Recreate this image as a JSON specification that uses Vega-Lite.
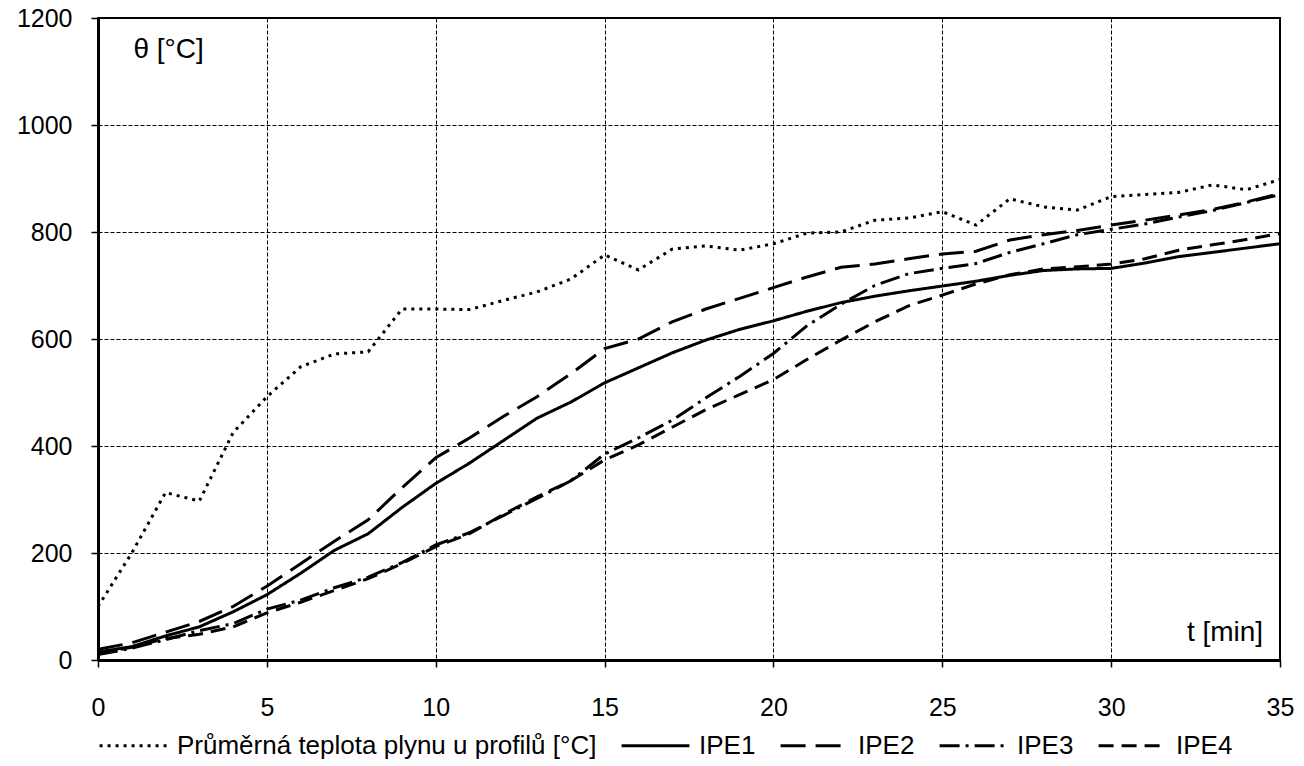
{
  "$schema": "https://vega.github.io/schema/vega-lite/v6.json",
  "width": 1182,
  "height": 642,
  "autosize": {"type": "none"},
  "padding": {"left": 98, "top": 18, "right": 24, "bottom": 106},
  "background": "white",
  "config": {
    "font": "Liberation Sans",
    "view": {"stroke": "black", "strokeWidth": 2},
    "axis": {
      "labelFont": "Liberation Sans",
      "labelFontSize": 25,
      "labelColor": "black",
      "domainColor": "black",
      "domainWidth": 3,
      "tickColor": "black",
      "tickWidth": 1.5,
      "tickSize": 7,
      "grid": true,
      "gridColor": "black",
      "gridDash": [4, 2],
      "gridWidth": 1,
      "gridOpacity": 1
    },
    "legend": {
      "labelFont": "Liberation Sans",
      "labelFontSize": 26,
      "labelColor": "black",
      "labelLimit": 700
    }
  },
  "datasets": {
    "temps": [
      {"t": 0, "s": "Průměrná teplota plynu u profilů [°C]", "v": 100},
      {"t": 1, "s": "Průměrná teplota plynu u profilů [°C]", "v": 200},
      {"t": 2, "s": "Průměrná teplota plynu u profilů [°C]", "v": 313},
      {"t": 3, "s": "Průměrná teplota plynu u profilů [°C]", "v": 297},
      {"t": 4, "s": "Průměrná teplota plynu u profilů [°C]", "v": 425},
      {"t": 5, "s": "Průměrná teplota plynu u profilů [°C]", "v": 492},
      {"t": 6, "s": "Průměrná teplota plynu u profilů [°C]", "v": 548},
      {"t": 7, "s": "Průměrná teplota plynu u profilů [°C]", "v": 572},
      {"t": 8, "s": "Průměrná teplota plynu u profilů [°C]", "v": 576},
      {"t": 9, "s": "Průměrná teplota plynu u profilů [°C]", "v": 656},
      {"t": 10, "s": "Průměrná teplota plynu u profilů [°C]", "v": 656},
      {"t": 11, "s": "Průměrná teplota plynu u profilů [°C]", "v": 655},
      {"t": 12, "s": "Průměrná teplota plynu u profilů [°C]", "v": 672},
      {"t": 13, "s": "Průměrná teplota plynu u profilů [°C]", "v": 688},
      {"t": 14, "s": "Průměrná teplota plynu u profilů [°C]", "v": 712},
      {"t": 15, "s": "Průměrná teplota plynu u profilů [°C]", "v": 757},
      {"t": 16, "s": "Průměrná teplota plynu u profilů [°C]", "v": 729},
      {"t": 17, "s": "Průměrná teplota plynu u profilů [°C]", "v": 768},
      {"t": 18, "s": "Průměrná teplota plynu u profilů [°C]", "v": 774},
      {"t": 19, "s": "Průměrná teplota plynu u profilů [°C]", "v": 766},
      {"t": 20, "s": "Průměrná teplota plynu u profilů [°C]", "v": 778},
      {"t": 21, "s": "Průměrná teplota plynu u profilů [°C]", "v": 798},
      {"t": 22, "s": "Průměrná teplota plynu u profilů [°C]", "v": 800},
      {"t": 23, "s": "Průměrná teplota plynu u profilů [°C]", "v": 822},
      {"t": 24, "s": "Průměrná teplota plynu u profilů [°C]", "v": 826},
      {"t": 25, "s": "Průměrná teplota plynu u profilů [°C]", "v": 838},
      {"t": 26, "s": "Průměrná teplota plynu u profilů [°C]", "v": 813},
      {"t": 27, "s": "Průměrná teplota plynu u profilů [°C]", "v": 862},
      {"t": 28, "s": "Průměrná teplota plynu u profilů [°C]", "v": 847},
      {"t": 29, "s": "Průměrná teplota plynu u profilů [°C]", "v": 841},
      {"t": 30, "s": "Průměrná teplota plynu u profilů [°C]", "v": 866},
      {"t": 31, "s": "Průměrná teplota plynu u profilů [°C]", "v": 870},
      {"t": 32, "s": "Průměrná teplota plynu u profilů [°C]", "v": 874},
      {"t": 33, "s": "Průměrná teplota plynu u profilů [°C]", "v": 888},
      {"t": 34, "s": "Průměrná teplota plynu u profilů [°C]", "v": 879},
      {"t": 35, "s": "Průměrná teplota plynu u profilů [°C]", "v": 898},

      {"t": 0, "s": "IPE1", "v": 15}, {"t": 1, "s": "IPE1", "v": 25}, {"t": 2, "s": "IPE1", "v": 45},
      {"t": 3, "s": "IPE1", "v": 62}, {"t": 4, "s": "IPE1", "v": 90}, {"t": 5, "s": "IPE1", "v": 122},
      {"t": 6, "s": "IPE1", "v": 162}, {"t": 7, "s": "IPE1", "v": 205}, {"t": 8, "s": "IPE1", "v": 236},
      {"t": 9, "s": "IPE1", "v": 285}, {"t": 10, "s": "IPE1", "v": 330}, {"t": 11, "s": "IPE1", "v": 368},
      {"t": 12, "s": "IPE1", "v": 410}, {"t": 13, "s": "IPE1", "v": 452}, {"t": 14, "s": "IPE1", "v": 482},
      {"t": 15, "s": "IPE1", "v": 518}, {"t": 16, "s": "IPE1", "v": 546}, {"t": 17, "s": "IPE1", "v": 574},
      {"t": 18, "s": "IPE1", "v": 598}, {"t": 19, "s": "IPE1", "v": 618}, {"t": 20, "s": "IPE1", "v": 634},
      {"t": 21, "s": "IPE1", "v": 652}, {"t": 22, "s": "IPE1", "v": 668}, {"t": 23, "s": "IPE1", "v": 680},
      {"t": 24, "s": "IPE1", "v": 690}, {"t": 25, "s": "IPE1", "v": 699}, {"t": 26, "s": "IPE1", "v": 708},
      {"t": 27, "s": "IPE1", "v": 719}, {"t": 28, "s": "IPE1", "v": 728}, {"t": 29, "s": "IPE1", "v": 731},
      {"t": 30, "s": "IPE1", "v": 732}, {"t": 31, "s": "IPE1", "v": 742}, {"t": 32, "s": "IPE1", "v": 754},
      {"t": 33, "s": "IPE1", "v": 762}, {"t": 34, "s": "IPE1", "v": 770}, {"t": 35, "s": "IPE1", "v": 778},

      {"t": 0, "s": "IPE2", "v": 20}, {"t": 1, "s": "IPE2", "v": 32}, {"t": 2, "s": "IPE2", "v": 52},
      {"t": 3, "s": "IPE2", "v": 72}, {"t": 4, "s": "IPE2", "v": 100}, {"t": 5, "s": "IPE2", "v": 138},
      {"t": 6, "s": "IPE2", "v": 180}, {"t": 7, "s": "IPE2", "v": 222}, {"t": 8, "s": "IPE2", "v": 262},
      {"t": 9, "s": "IPE2", "v": 322}, {"t": 10, "s": "IPE2", "v": 378}, {"t": 11, "s": "IPE2", "v": 415},
      {"t": 12, "s": "IPE2", "v": 455}, {"t": 13, "s": "IPE2", "v": 492}, {"t": 14, "s": "IPE2", "v": 535},
      {"t": 15, "s": "IPE2", "v": 582}, {"t": 16, "s": "IPE2", "v": 600}, {"t": 17, "s": "IPE2", "v": 632},
      {"t": 18, "s": "IPE2", "v": 656}, {"t": 19, "s": "IPE2", "v": 676}, {"t": 20, "s": "IPE2", "v": 696},
      {"t": 21, "s": "IPE2", "v": 716}, {"t": 22, "s": "IPE2", "v": 734}, {"t": 23, "s": "IPE2", "v": 740},
      {"t": 24, "s": "IPE2", "v": 750}, {"t": 25, "s": "IPE2", "v": 759}, {"t": 26, "s": "IPE2", "v": 764},
      {"t": 27, "s": "IPE2", "v": 785}, {"t": 28, "s": "IPE2", "v": 795}, {"t": 29, "s": "IPE2", "v": 803},
      {"t": 30, "s": "IPE2", "v": 813}, {"t": 31, "s": "IPE2", "v": 822}, {"t": 32, "s": "IPE2", "v": 832},
      {"t": 33, "s": "IPE2", "v": 842}, {"t": 34, "s": "IPE2", "v": 856}, {"t": 35, "s": "IPE2", "v": 872},

      {"t": 0, "s": "IPE3", "v": 10}, {"t": 1, "s": "IPE3", "v": 22}, {"t": 2, "s": "IPE3", "v": 38},
      {"t": 3, "s": "IPE3", "v": 55}, {"t": 4, "s": "IPE3", "v": 68}, {"t": 5, "s": "IPE3", "v": 95},
      {"t": 6, "s": "IPE3", "v": 112}, {"t": 7, "s": "IPE3", "v": 135}, {"t": 8, "s": "IPE3", "v": 155},
      {"t": 9, "s": "IPE3", "v": 182}, {"t": 10, "s": "IPE3", "v": 215}, {"t": 11, "s": "IPE3", "v": 238},
      {"t": 12, "s": "IPE3", "v": 270}, {"t": 13, "s": "IPE3", "v": 302}, {"t": 14, "s": "IPE3", "v": 335},
      {"t": 15, "s": "IPE3", "v": 385}, {"t": 16, "s": "IPE3", "v": 415}, {"t": 17, "s": "IPE3", "v": 448},
      {"t": 18, "s": "IPE3", "v": 490}, {"t": 19, "s": "IPE3", "v": 530}, {"t": 20, "s": "IPE3", "v": 573},
      {"t": 21, "s": "IPE3", "v": 625}, {"t": 22, "s": "IPE3", "v": 665}, {"t": 23, "s": "IPE3", "v": 700},
      {"t": 24, "s": "IPE3", "v": 722}, {"t": 25, "s": "IPE3", "v": 732}, {"t": 26, "s": "IPE3", "v": 741},
      {"t": 27, "s": "IPE3", "v": 762}, {"t": 28, "s": "IPE3", "v": 778}, {"t": 29, "s": "IPE3", "v": 795},
      {"t": 30, "s": "IPE3", "v": 805}, {"t": 31, "s": "IPE3", "v": 815}, {"t": 32, "s": "IPE3", "v": 828},
      {"t": 33, "s": "IPE3", "v": 840}, {"t": 34, "s": "IPE3", "v": 855}, {"t": 35, "s": "IPE3", "v": 870},

      {"t": 0, "s": "IPE4", "v": 12}, {"t": 1, "s": "IPE4", "v": 24}, {"t": 2, "s": "IPE4", "v": 40},
      {"t": 3, "s": "IPE4", "v": 48}, {"t": 4, "s": "IPE4", "v": 62}, {"t": 5, "s": "IPE4", "v": 88},
      {"t": 6, "s": "IPE4", "v": 108}, {"t": 7, "s": "IPE4", "v": 130}, {"t": 8, "s": "IPE4", "v": 152},
      {"t": 9, "s": "IPE4", "v": 180}, {"t": 10, "s": "IPE4", "v": 212}, {"t": 11, "s": "IPE4", "v": 236},
      {"t": 12, "s": "IPE4", "v": 272}, {"t": 13, "s": "IPE4", "v": 305}, {"t": 14, "s": "IPE4", "v": 335},
      {"t": 15, "s": "IPE4", "v": 374}, {"t": 16, "s": "IPE4", "v": 402}, {"t": 17, "s": "IPE4", "v": 435},
      {"t": 18, "s": "IPE4", "v": 468}, {"t": 19, "s": "IPE4", "v": 496}, {"t": 20, "s": "IPE4", "v": 524},
      {"t": 21, "s": "IPE4", "v": 562}, {"t": 22, "s": "IPE4", "v": 598}, {"t": 23, "s": "IPE4", "v": 632},
      {"t": 24, "s": "IPE4", "v": 662}, {"t": 25, "s": "IPE4", "v": 682}, {"t": 26, "s": "IPE4", "v": 703},
      {"t": 27, "s": "IPE4", "v": 720}, {"t": 28, "s": "IPE4", "v": 731}, {"t": 29, "s": "IPE4", "v": 735},
      {"t": 30, "s": "IPE4", "v": 740}, {"t": 31, "s": "IPE4", "v": 750}, {"t": 32, "s": "IPE4", "v": 766},
      {"t": 33, "s": "IPE4", "v": 776}, {"t": 34, "s": "IPE4", "v": 786}, {"t": 35, "s": "IPE4", "v": 797}
    ]
  },
  "layer": [
    {
      "data": {"name": "temps"},
      "mark": {"type": "line", "color": "black", "strokeWidth": 3, "clip": true},
      "encoding": {
        "x": {
          "field": "t", "type": "quantitative",
          "scale": {"domain": [0, 35], "nice": false},
          "axis": {"title": null, "values": [0, 5, 10, 15, 20, 25, 30, 35], "format": "d", "labelPadding": 28, "labelFontSize": 25, "labelFlush": false, "domainWidth": 3}
        },
        "y": {
          "field": "v", "type": "quantitative",
          "scale": {"domain": [0, 1200], "nice": false},
          "axis": {"title": null, "values": [0, 200, 400, 600, 800, 1000, 1200], "format": "d", "labelPadding": 19, "labelFontSize": 25, "domainWidth": 3}
        },
        "strokeDash": {
          "field": "s", "type": "nominal",
          "scale": {
            "domain": ["Průměrná teplota plynu u profilů [°C]", "IPE1", "IPE2", "IPE3", "IPE4"],
            "range": [[3, 5], [1, 0], [25, 10], [20, 6, 3, 6], [15, 8]]
          },
          "legend": {
            "title": null,
            "orient": "bottom",
            "direction": "horizontal",
            "symbolType": "stroke",
            "symbolSize": 4600,
            "symbolStrokeWidth": 3,
            "symbolStrokeColor": "black",
            "labelFontSize": 26,
            "labelOffset": 8,
            "columnPadding": 18,
            "offset": -10
          }
        }
      }
    },
    {
      "data": {"values": [{}]},
      "mark": {"type": "text", "align": "left", "baseline": "middle", "fontSize": 28, "font": "Liberation Sans", "color": "black"},
      "encoding": {
        "x": {"datum": 1.05},
        "y": {"datum": 1140},
        "text": {"value": "θ [°C]"}
      }
    },
    {
      "data": {"values": [{}]},
      "mark": {"type": "text", "align": "right", "baseline": "middle", "fontSize": 28, "font": "Liberation Sans", "color": "black"},
      "encoding": {
        "x": {"datum": 34.5},
        "y": {"datum": 50},
        "text": {"value": "t [min]"}
      }
    }
  ]
}
